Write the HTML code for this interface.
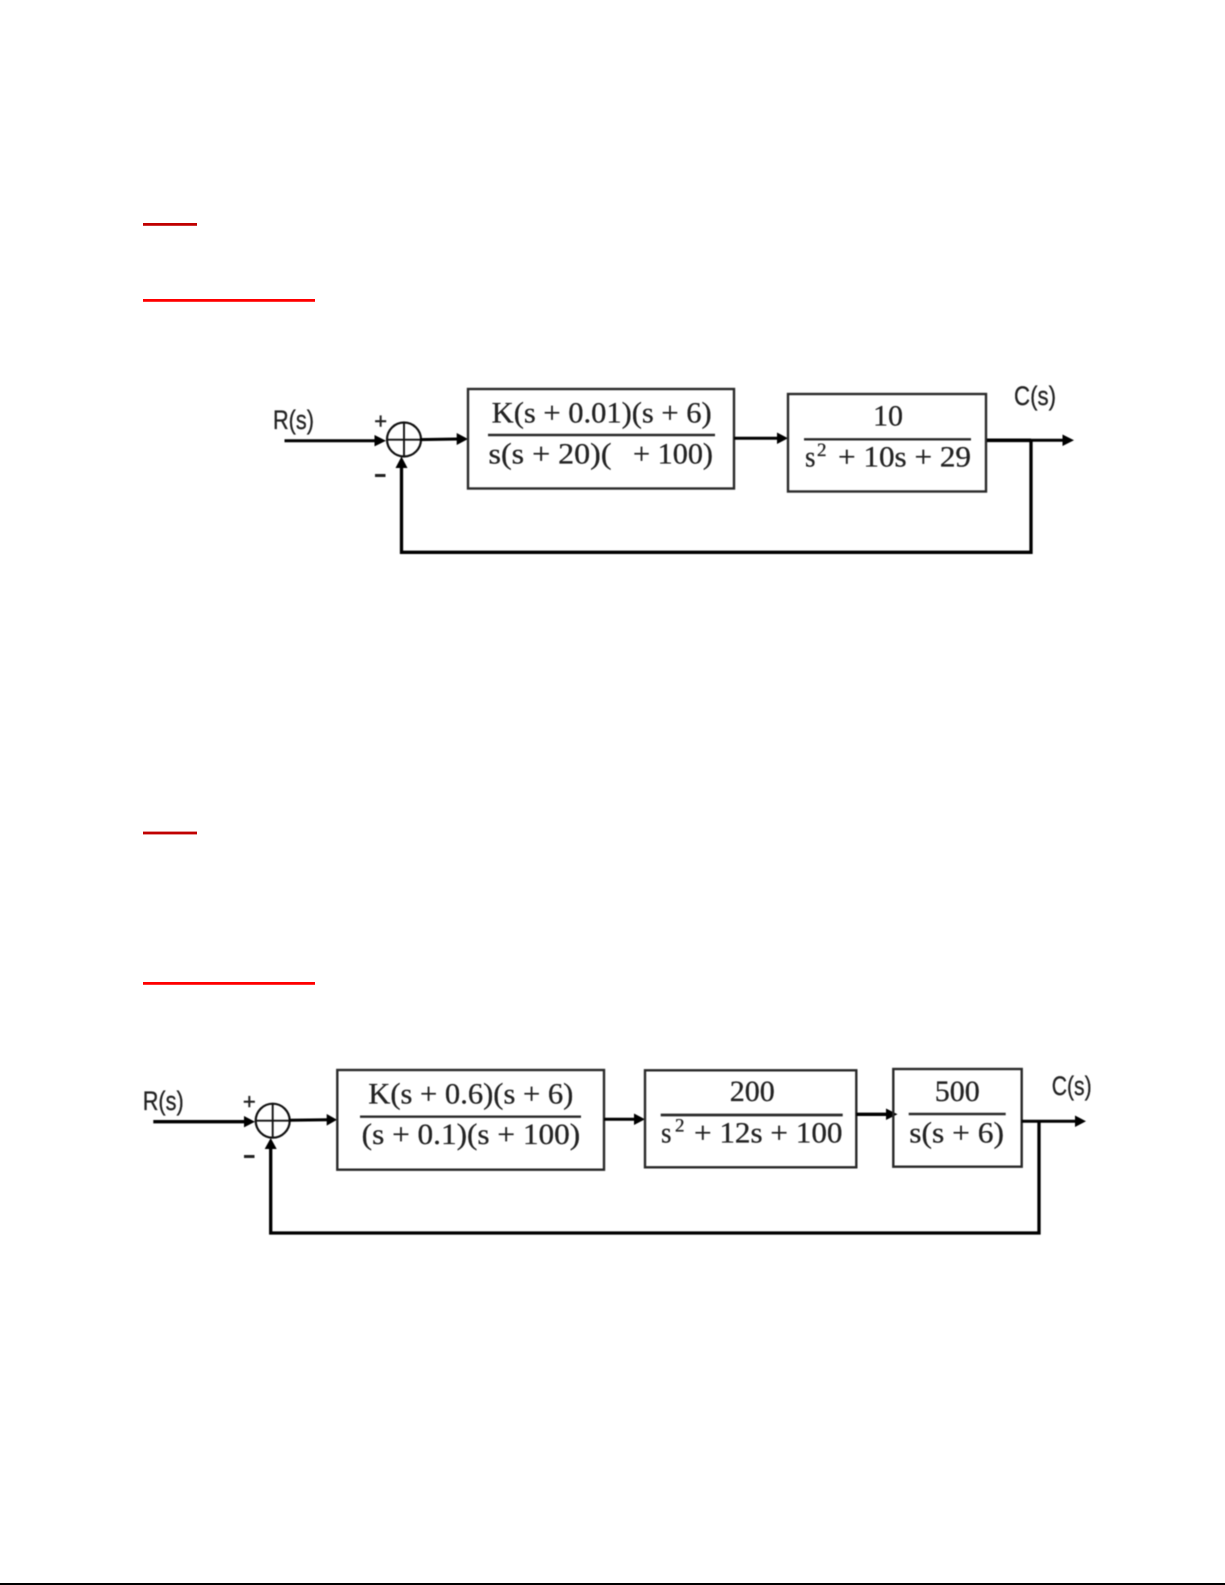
<!DOCTYPE html>
<html>
<head>
<meta charset="utf-8">
<style>
html,body{margin:0;padding:0;background:#fff;width:1225px;height:1585px;overflow:hidden}
svg{display:block}
.m{font-family:"Liberation Serif",serif;font-size:30px;fill:#222;stroke:#222;stroke-width:.3}
.l{font-family:"Liberation Sans",sans-serif;font-size:27px;fill:#222;stroke:#222;stroke-width:.3}
.s{font-family:"Liberation Sans",sans-serif;font-size:22px;fill:#222;stroke:#222;stroke-width:.4}
.b{fill:none;stroke:#2a2a2a;stroke-width:2.4}
.f{stroke:#2a2a2a;stroke-width:2.4}
.w{fill:none;stroke:#000;stroke-width:3}
.a{fill:#000;stroke:none}
</style>
</head>
<body>
<svg width="1225" height="1585" viewBox="0 0 1225 1585" xmlns="http://www.w3.org/2000/svg">
<rect width="1225" height="1585" fill="#fff"/>
<!-- red underlines -->
<rect x="143" y="223" width="54" height="2.8" fill="#c00000"/>
<rect x="143" y="299" width="172" height="2.8" fill="#ff0000"/>
<rect x="143" y="831.6" width="54" height="2.8" fill="#c00000"/>
<rect x="143" y="982" width="172" height="2.8" fill="#ff0000"/>
<rect x="0" y="1583" width="1225" height="2" fill="#000"/>

<!-- Diagram 1 -->
<g style="filter:blur(0.5px)">
<text class="l" x="273" y="429" textLength="41" lengthAdjust="spacingAndGlyphs">R(s)</text>
<text class="s" x="380.7" y="428.5" text-anchor="middle">+</text>
<rect x="375" y="474" width="10.5" height="3" fill="#222"/>
<path class="w" d="M284.5 440.7H376"/>
<path class="a" d="M374.5 435L386 440.7L374.5 446.4Z"/>
<circle cx="404" cy="439.5" r="17" fill="none" stroke="#111" stroke-width="2.2"/>
<path d="M387 439.7H421M404 422.5V456.5" stroke="#111" stroke-width="1.9" fill="none"/>
<path class="w" d="M420 439.6L458 439"/>
<path class="a" d="M456.7 433L468 439L456.7 445Z"/>
<rect class="b" x="468" y="389" width="266" height="99.5"/>
<text class="m" x="491.7" y="422.7" textLength="220" lengthAdjust="spacingAndGlyphs">K(s + 0.01)(s + 6)</text>
<path class="f" d="M488 435H715"/>
<text class="m" x="488.5" y="463.5" textLength="123" lengthAdjust="spacingAndGlyphs">s(s + 20)(</text>
<text class="m" x="633" y="463.5" textLength="80" lengthAdjust="spacingAndGlyphs">+ 100)</text>
<path class="w" d="M734 438.3H778"/>
<path class="a" d="M777 432.5L788 438.3L777 444Z"/>
<rect class="b" x="788" y="394" width="198" height="97.5"/>
<text class="m" x="888" y="425.7" text-anchor="middle">10</text>
<path class="f" d="M804 439.3H971"/>
<text class="m" x="805" y="466.7" textLength="10.5" lengthAdjust="spacingAndGlyphs">s</text>
<text class="m" x="817" y="456" style="font-size:19px">2</text>
<text class="m" x="838" y="466.7" textLength="133" lengthAdjust="spacingAndGlyphs">+ 10s + 29</text>
<path d="M987 440.3H1031" stroke="#000" stroke-width="3.6" fill="none"/>
<path class="w" d="M1031 440.3H1064"/>
<path class="a" d="M1062.5 434.5L1074 440.3L1062.5 446Z"/>
<text class="l" x="1014" y="405" textLength="42" lengthAdjust="spacingAndGlyphs">C(s)</text>
<path d="M1031 440V552.3H401.5V466" fill="none" stroke="#000" stroke-width="3.3"/>
<path class="a" d="M395.5 468L401.5 456.5L407.5 468Z"/>

<!-- Diagram 2 -->
<text class="l" x="142.7" y="1110" textLength="41" lengthAdjust="spacingAndGlyphs">R(s)</text>
<text class="s" x="249.3" y="1109" text-anchor="middle">+</text>
<rect x="244" y="1155" width="10.5" height="3" fill="#222"/>
<path d="M153.3 1121.7H245" fill="none" stroke="#000" stroke-width="3.3"/>
<path class="a" d="M244 1116L255 1121.7L244 1127.4Z"/>
<circle cx="272.7" cy="1120.7" r="17" fill="none" stroke="#111" stroke-width="2.2"/>
<path d="M255.7 1120.7H289.7M272.7 1103.7V1137.7" stroke="#111" stroke-width="1.9" fill="none"/>
<path class="w" d="M289.5 1120.3L328 1119.8"/>
<path class="a" d="M326.7 1114L337 1119.8L326.7 1125.6Z"/>
<rect class="b" x="337.3" y="1070" width="266.7" height="99.7"/>
<text class="m" x="368.3" y="1103.3" textLength="205" lengthAdjust="spacingAndGlyphs">K(s + 0.6)(s + 6)</text>
<path class="f" d="M360 1116.7H581"/>
<text class="m" x="361.7" y="1144" textLength="218.5" lengthAdjust="spacingAndGlyphs">(s + 0.1)(s + 100)</text>
<path class="w" d="M604 1119.3H635"/>
<path class="a" d="M634 1113.5L645 1119.3L634 1125Z"/>
<rect class="b" x="645" y="1070.3" width="211.3" height="97"/>
<text class="m" x="752.3" y="1101" text-anchor="middle">200</text>
<path d="M660.7 1115H842.7" stroke="#2a2a2a" stroke-width="2.8"/>
<text class="m" x="661" y="1142.3" textLength="10.5" lengthAdjust="spacingAndGlyphs">s</text>
<text class="m" x="675" y="1131.5" style="font-size:19px">2</text>
<text class="m" x="694" y="1142.3" textLength="148.5" lengthAdjust="spacingAndGlyphs">+ 12s + 100</text>
<path d="M856.3 1114.3H887" fill="none" stroke="#000" stroke-width="3.3"/>
<path class="a" d="M886 1108.5L897.5 1114.3L886 1120Z"/>
<rect class="b" x="893.3" y="1069" width="128.4" height="97.7"/>
<text class="m" x="957.3" y="1101" text-anchor="middle">500</text>
<path class="f" d="M908.7 1114H1005.7"/>
<text class="m" x="909.3" y="1142.3" textLength="94.7" lengthAdjust="spacingAndGlyphs">s(s + 6)</text>
<path class="w" d="M1021.7 1121.3H1076"/>
<path class="a" d="M1075 1115.5L1086 1121.3L1075 1127Z"/>
<text class="l" x="1051.7" y="1095" textLength="40" lengthAdjust="spacingAndGlyphs">C(s)</text>
<path d="M1039 1121V1233H270.7V1147" fill="none" stroke="#000" stroke-width="3.3"/>
<path class="a" d="M264.7 1149L270.7 1138L276.7 1149Z"/>
</g>
</svg>
</body>
</html>
